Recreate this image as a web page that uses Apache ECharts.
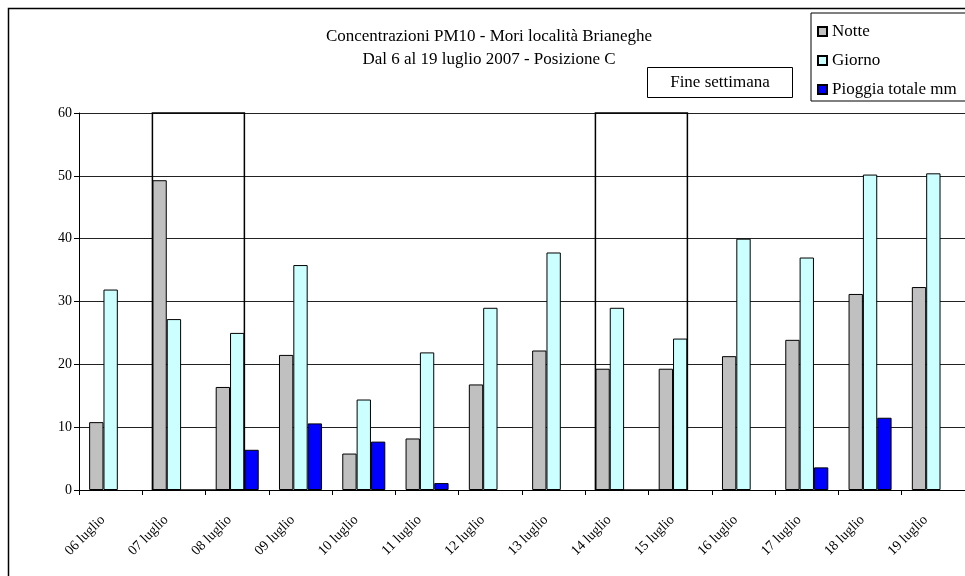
<!DOCTYPE html>
<html>
<head>
<meta charset="utf-8">
<script src="https://cdn.jsdelivr.net/npm/echarts@6/dist/echarts.min.js"></script>
<style>html,body{margin:0;padding:0;background:#fff}#c{width:965px;height:576px}</style>
</head>
<body>
<div id="c"></div>
<script>
const categories = ['06 luglio','07 luglio','08 luglio','09 luglio','10 luglio','11 luglio','12 luglio','13 luglio','14 luglio','15 luglio','16 luglio','17 luglio','18 luglio','19 luglio'];
const notte   = [10.8, 49.3, 16.4, 21.5, 5.8, 8.2, 16.8, 22.2, 19.3, 19.3, 21.3, 23.9, 31.2, 32.3];
const giorno  = [31.9, 27.2, 25.0, 35.8, 14.4, 21.9, 29.0, 37.8, 29.0, 24.1, 40.0, 37.0, 50.2, 50.4];
const pioggia = ['-', '-', 6.4, 10.6, 7.7, 1.1, '-', '-', '-', '-', '-', 3.6, 11.5, '-'];
const weekendStart = ['07 luglio', '14 luglio'];
const weekendEnd   = ['08 luglio', '15 luglio'];
const weekendTop = 60;
const yTicks = [0, 10, 20, 30, 40, 50, 60];

const FONT = '"Liberation Serif", "Times New Roman", serif';
const chart = echarts.init(document.getElementById('c'));
const barBorder = { borderColor: '#000', borderWidth: 1 };
const gapFrac = 0.32;

const weekendData = weekendStart.map((s, i) => [categories.indexOf(s), categories.indexOf(weekendEnd[i]), weekendTop]);

chart.setOption({
  animation: false,
  title: {
    text: 'Concentrazioni PM10 - Mori località Brianeghe\nDal 6 al 19 luglio 2007 - Posizione C',
    left: 484, top: 20, textAlign: 'center',
    textStyle: { fontFamily: FONT, fontSize: 17, fontWeight: 'normal', color: '#000', lineHeight: 23 }
  },
  legend: {
    orient: 'vertical', left: 811, top: 13, width: 200,
    padding: [10, 60, 3, 6], itemGap: 12,
    borderColor: '#000', borderWidth: 1,
    itemWidth: 9, itemHeight: 9, icon: 'rect',
    data: ['Notte', 'Giorno', 'Pioggia totale mm'],
    textStyle: { fontFamily: FONT, fontSize: 17, color: '#000', lineHeight: 17 }
  },
  grid: { left: 79, right: 0, top: 113, bottom: 86, containLabel: false },
  xAxis: {
    type: 'category', data: categories, boundaryGap: true,
    axisLine: { lineStyle: { color: '#000', width: 1 } },
    axisTick: { show: true, alignWithLabel: false, length: 5, lineStyle: { color: '#000' } },
    axisLabel: { rotate: 45, fontFamily: FONT, fontSize: 14, color: '#000', margin: 20, interval: 0,
      padding: [0, 11, 0, 0] }
  },
  yAxis: {
    type: 'value', min: 0, max: 60, interval: 10,
    axisLine: { show: true, lineStyle: { color: '#000' } },
    axisTick: { show: true, length: 5, lineStyle: { color: '#000' } },
    splitLine: { lineStyle: { color: '#222', width: 1 } },
    axisLabel: { fontFamily: FONT, fontSize: 14, color: '#000', margin: 7,
      formatter: v => yTicks.includes(v) ? String(v) : '' }
  },
  series: [
    { name: 'Notte', type: 'bar', data: notte, barGap: '0%', barCategoryGap: '32%',
      itemStyle: Object.assign({ color: '#C0C0C0' }, barBorder) },
    { name: 'Giorno', type: 'bar', data: giorno,
      itemStyle: Object.assign({ color: '#CCFFFF' }, barBorder) },
    { name: 'Pioggia totale mm', type: 'bar', data: pioggia,
      itemStyle: Object.assign({ color: '#0000FF' }, barBorder) },
    { name: 'Fine settimana', type: 'custom', z: 10, silent: true,
      data: weekendData,
      encode: { x: [0, 1], y: 2 },
      renderItem: function (params, api) {
        const band = api.size([1, 0])[0];
        const pTop = api.coord([api.value(0), api.value(2)]);
        const pEnd = api.coord([api.value(1), 0]);
        const groupW = band * (1 - gapFrac);
        const x0 = pTop[0] - band / 2 + band * gapFrac / 2;
        const x1 = pEnd[0] - band / 2 + band * gapFrac / 2 + groupW * 2 / 3;
        return { type: 'rect', shape: { x: x0, y: pTop[1], width: x1 - x0, height: pEnd[1] - pTop[1] },
          style: { fill: null, stroke: '#000', lineWidth: 1.5 } };
      }
    }
  ],
  graphic: [
    { type: 'rect', left: 6, top: 6, shape: { width: 1000, height: 600 }, style: { fill: null, stroke: '#000', lineWidth: 1.5 }, z: 0 },
    { type: 'rect', left: 647, top: 67, z: 100,
      shape: { width: 145, height: 30 }, style: { fill: '#fff', stroke: '#000', lineWidth: 1 },
      textContent: { style: { text: 'Fine settimana', font: '17px ' + FONT, fill: '#000' }, z: 101 },
      textConfig: { position: 'inside' } }
  ]
});
</script>
</body>
</html>
